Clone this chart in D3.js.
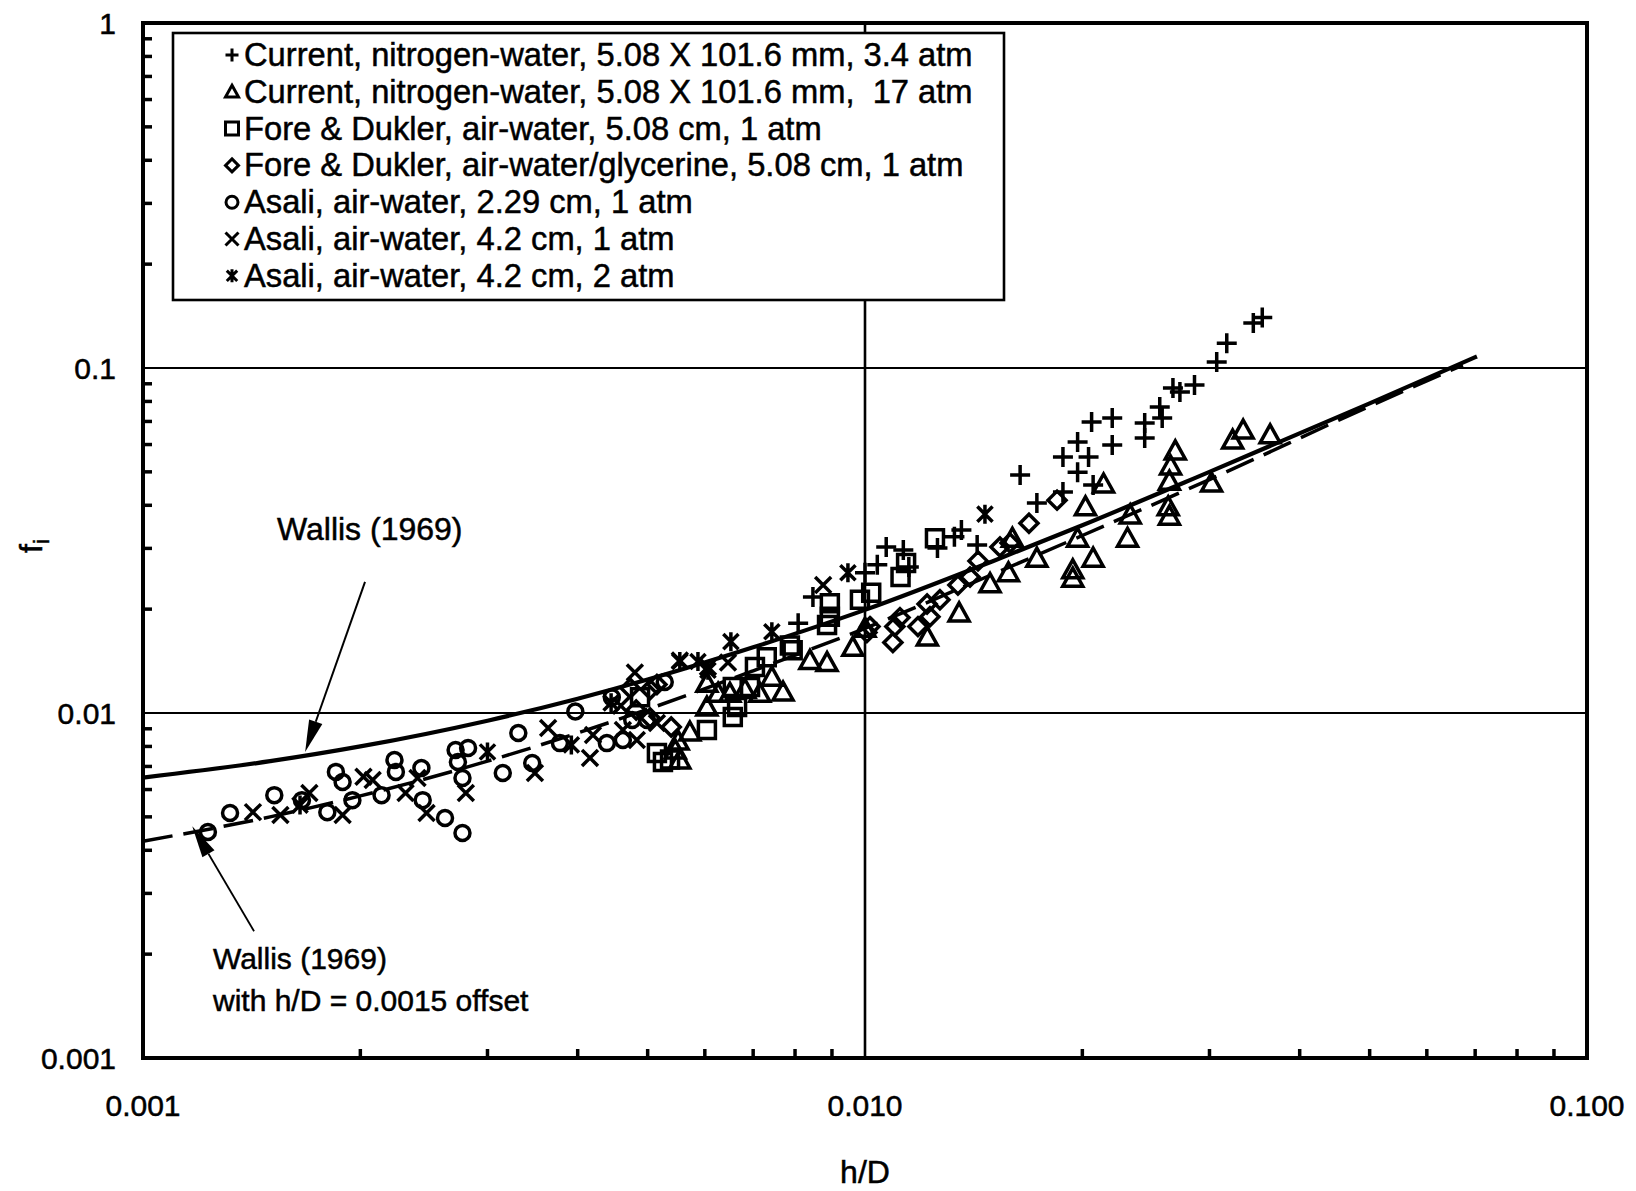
<!DOCTYPE html>
<html><head><meta charset="utf-8">
<script src="https://cdn.jsdelivr.net/npm/d3@7"></script>
<style>
body{margin:0;background:#fff}
svg{display:block}
text{font-family:"Liberation Sans",Arial,sans-serif;fill:#000;stroke:#000;stroke-width:0.5px}
</style>
</head><body>
<svg id="chart" width="1636" height="1191"></svg>
<script>
// ---------- data ----------
const plusHD = [0.0345,0.0355,0.0317,0.0307,0.0286,0.0273,0.0267,0.0256,0.0258,0.0244,0.0244,0.0220,0.0206,0.0220,0.0197,0.0188,0.0204,0.0197,0.0207,0.0164,0.0173,0.0188,0.0136,0.0133,0.0143,0.0126,0.0107,0.0113,0.0104,0.0115,0.0100,0.00847,0.00808];
const plusF  = [0.135,0.140,0.118,0.104,0.0893,0.0852,0.0875,0.0771,0.0716,0.0693,0.0627,0.0716,0.0697,0.0598,0.0610,0.0552,0.0552,0.0499,0.0458,0.0490,0.0406,0.0437,0.0339,0.0324,0.0307,0.0301,0.0303,0.0297,0.0269,0.0265,0.0255,0.0217,0.0182];

const triHD = [0.0364,0.0334,0.0323,0.0302,0.0269,0.0265,0.0264,0.0263,0.0264,0.0233,0.0231,0.0214,0.0202,0.0197,0.0207,0.0173,0.0194,0.0194,0.0149,0.0160,0.0158,0.0135,0.0122,0.0100,0.00962,0.00886,0.00839,0.00770,0.00743,0.00715,0.00682,0.00650,0.00626,0.00604,0.00604,0.00554,0.00551,0.00572,0.00546];
const triF  = [0.0640,0.0661,0.0618,0.0464,0.0575,0.0520,0.0470,0.0396,0.0372,0.0375,0.0321,0.0461,0.0396,0.0321,0.0281,0.0281,0.0260,0.0246,0.0237,0.0321,0.0255,0.0195,0.0166,0.0176,0.0155,0.0140,0.0142,0.0115,0.0127,0.0114,0.0117,0.0114,0.0114,0.0122,0.0104,0.00731,0.00829,0.00881,0.00781];

const sqHD = [0.0125,0.0114,0.0112,0.0102,0.00984,0.00894,0.00894,0.00886,0.00787,0.00794,0.00731,0.00704,0.00693,0.00656,0.00656,0.00604,0.00665,0.00515,0.00525,0.00537,0.00488];
const sqF  = [0.0321,0.0272,0.0248,0.0223,0.0213,0.0208,0.0190,0.0180,0.0157,0.0152,0.0145,0.0136,0.0119,0.0119,0.00974,0.00893,0.0104,0.00766,0.00721,0.00733,0.0111];

const diaHD = [0.01845,0.01687,0.01538,0.01588,0.01434,0.01398,0.01345,0.01270,0.01219,0.01230,0.01184,0.01118,0.01100,0.01093,0.01016,0.01006,0.00515,0.00504,0.00539,0.00504,0.00482,0.00473];
const diaF  = [0.0414,0.0355,0.0303,0.0311,0.0276,0.0248,0.0235,0.0213,0.0207,0.0190,0.0178,0.0189,0.0178,0.0160,0.0178,0.0171,0.0121,0.0117,0.00911,0.00967,0.0102,0.0118];

const circHD = [0.00123,0.00132,0.00152,0.00166,0.00180,0.00185,0.00189,0.00195,0.00214,0.00223,0.00224,0.00243,0.00244,0.00262,0.00277,0.00271,0.00282,0.00273,0.00277,0.00331,0.00315,0.00346,0.00397,0.00378,0.00446,0.00439,0.00462,0.00476,0.00528,0.00499];
const circF  = [0.00452,0.00513,0.00578,0.00559,0.00516,0.00675,0.00631,0.00559,0.00578,0.00731,0.00675,0.00693,0.00559,0.00496,0.00449,0.00781,0.00792,0.00721,0.00648,0.00875,0.00670,0.00716,0.0101,0.00818,0.0111,0.00818,0.00835,0.00954,0.0123,0.00954];

const xHD = [0.00142,0.00155,0.00170,0.00189,0.00202,0.00208,0.00231,0.00240,0.00247,0.00280,0.00349,0.00364,0.00416,0.00420,0.00483,0.00462,0.00480,0.00515,0.00554,0.00875,0.00646,0.00606,0.00459];
const xF  = [0.00516,0.00506,0.00586,0.00506,0.00653,0.00639,0.00586,0.00648,0.00513,0.00586,0.00670,0.00905,0.00741,0.00863,0.00835,0.00893,0.0131,0.00935,0.0142,0.0235,0.0140,0.0136,0.0105];

const astHD = [0.01466,0.00947,0.00652,0.00554,0.00587,0.00743,0.00445,0.00392,0.00300,0.00606,0.00165];
const astF  = [0.0377,0.0255,0.0161,0.0141,0.0141,0.0172,0.0107,0.00808,0.00771,0.0133,0.00541];

// Wallis (1969) curve and the offset curve
const wallisHD = [0.001,0.0015,0.002,0.003,0.004,0.005,0.007,0.01,0.015,0.02,0.03,0.05,0.0704];
const wallisF  = [0.0065,0.00725,0.008,0.0095,0.011,0.0125,0.0155,0.0199,0.0275,0.035,0.05,0.079,0.108];
const offsetHD = [0.001,0.0015,0.002,0.003,0.004,0.005,0.007,0.01,0.015,0.02,0.03,0.05,0.0673];
const offsetF  = [0.00425,0.005,0.00575,0.00725,0.00875,0.01025,0.01325,0.0176,0.0252,0.0327,0.0475,0.0775,0.102];

const legendLabels = [
  "Current, nitrogen-water, 5.08 X 101.6 mm, 3.4 atm",
  "Current, nitrogen-water, 5.08 X 101.6 mm,  17 atm",
  "Fore & Dukler, air-water, 5.08 cm, 1 atm",
  "Fore & Dukler, air-water/glycerine, 5.08 cm, 1 atm",
  "Asali, air-water, 2.29 cm, 1 atm",
  "Asali, air-water, 4.2 cm, 1 atm",
  "Asali, air-water, 4.2 cm, 2 atm"
];
const legendSymbols = ["plus","tri","sq","dia","circ","x","ast"];
const xTickValues = [0.001, 0.01, 0.1];
const xTickLabels = ["0.001","0.010","0.100"];
const yTickValues = [1, 0.1, 0.01, 0.001];
const yTickLabels = ["1","0.1","0.01","0.001"];

// ---------- layout ----------
const L = 143, R = 1587, T = 23, B = 1058;
const svg = d3.select("#chart");
const x = d3.scaleLog().domain([0.001, 0.1]).range([L, R]);
const y = d3.scaleLog().domain([0.001, 1]).range([B, T]);

function sym(type, s) {
  switch (type) {
    case "plus": return `M${-s},0H${s}M0,${-s}V${s}`;
    case "tri": return `M0,${-s}L${s*1.0},${s*0.8}L${-s*1.0},${s*0.8}Z`;
    case "sq": return `M${-s},${-s}H${s}V${s}H${-s}Z`;
    case "dia": return `M0,${-s}L${s},0L0,${s}L${-s},0Z`;
    case "circ": return `M${s},0A${s},${s} 0 1,1 ${-s},0A${s},${s} 0 1,1 ${s},0Z`;
    case "x": return `M${-s},${-s}L${s},${s}M${-s},${s}L${s},${-s}`;
    case "ast": { const a = s*0.8; return `M${-a},${-a}L${a},${a}M${-a},${a}L${a},${-a}M0,${-s}V${s}`; }
  }
}

// minor ticks (inward)
const yMinor = y.ticks().filter(v => Math.abs(Math.log10(v) - Math.round(Math.log10(v))) > 1e-6);
svg.append("g").selectAll("line").data(yMinor).join("line")
  .attr("x1", L).attr("x2", L + 9).attr("y1", d => y(d)).attr("y2", d => y(d))
  .attr("stroke", "#000").attr("stroke-width", 3.5);
const xMinor = x.ticks().filter(v => Math.abs(Math.log10(v) - Math.round(Math.log10(v))) > 1e-6);
svg.append("g").selectAll("line").data(xMinor).join("line")
  .attr("y1", B).attr("y2", B - 9).attr("x1", d => x(d)).attr("x2", d => x(d))
  .attr("stroke", "#000").attr("stroke-width", 3.5);

// grid lines
svg.append("g").selectAll("line").data([0.01, 0.1]).join("line")
  .attr("x1", L).attr("x2", R).attr("y1", d => y(d)).attr("y2", d => y(d))
  .attr("stroke", "#000").attr("stroke-width", 2.2);
svg.append("line").attr("x1", x(0.01)).attr("x2", x(0.01)).attr("y1", T).attr("y2", B)
  .attr("stroke", "#000").attr("stroke-width", 2.6);

// tick labels
svg.append("g").selectAll("text").data(xTickValues).join("text")
  .attr("x", d => x(d)).attr("y", 1116).attr("text-anchor", "middle")
  .attr("font-size", 30).text((d, i) => xTickLabels[i]);
svg.append("g").selectAll("text").data(yTickValues).join("text")
  .attr("x", 116).attr("y", d => y(d) + 11).attr("text-anchor", "end")
  .attr("font-size", 30).text((d, i) => yTickLabels[i]);

// axis titles
svg.append("text").attr("x", x(0.01)).attr("y", 1183).attr("text-anchor", "middle")
  .attr("font-size", 32).text("h/D");
const ft = svg.append("text").attr("transform", "translate(42,546) rotate(-90)")
  .attr("text-anchor", "middle").attr("font-size", 32);
ft.append("tspan").text("f");
ft.append("tspan").attr("font-size", 22).attr("dy", 7).text("i");

// curves
const lineGen = d3.line().x(d => x(d[0])).y(d => y(d[1])).curve(d3.curveMonotoneX);
svg.append("path").attr("d", lineGen(d3.zip(offsetHD, offsetF)))
  .attr("fill", "none").attr("stroke", "#000").attr("stroke-width", 3.5)
  .attr("stroke-dasharray", "30,11");
svg.append("path").attr("d", lineGen(d3.zip(wallisHD, wallisF)))
  .attr("fill", "none").attr("stroke", "#000").attr("stroke-width", 4.2);

// data points
const series = [
  {t: "plus", hd: plusHD, f: plusF, s: 10},
  {t: "tri",  hd: triHD,  f: triF,  s: 10},
  {t: "sq",   hd: sqHD,   f: sqF,   s: 8.5},
  {t: "dia",  hd: diaHD,  f: diaF,  s: 9},
  {t: "circ", hd: circHD, f: circF, s: 7.5},
  {t: "x",    hd: xHD,    f: xF,    s: 8},
  {t: "ast",  hd: astHD,  f: astF,  s: 9.5}
];
series.forEach(S => {
  svg.append("g").selectAll("path").data(d3.zip(S.hd, S.f)).join("path")
    .attr("transform", d => `translate(${x(d[0])},${y(d[1])})`)
    .attr("d", sym(S.t, S.s))
    .attr("fill", "none").attr("stroke", "#000").attr("stroke-width", 3.5)
    .attr("stroke-linejoin", "miter");
});

// annotations
function arrow(x1, y1, x2, y2, w) {
  const dx = x2 - x1, dy = y2 - y1, len = Math.hypot(dx, dy);
  const ux = dx / len, uy = dy / len, hl = 32, hw = 7;
  const bx = x2 - ux * hl, by = y2 - uy * hl;
  svg.append("line").attr("x1", x1).attr("y1", y1).attr("x2", bx).attr("y2", by)
    .attr("stroke", "#000").attr("stroke-width", w);
  svg.append("path").attr("d",
    `M${x2},${y2}L${bx - uy * hw},${by + ux * hw}L${bx + uy * hw},${by - ux * hw}Z`)
    .attr("fill", "#000");
}
arrow(x(0.00203), y(0.0240), x(0.001677), y(0.00771), 2);
arrow(x(0.001425), y(0.00233), x(0.00117), y(0.0047), 1.8);
svg.append("text").attr("x", x(0.001533)).attr("y", y(0.0317)).attr("font-size", 32).text("Wallis (1969)");
svg.append("text").attr("x", x(0.00125)).attr("y", y(0.00181)).attr("font-size", 30).text("Wallis (1969)");
svg.append("text").attr("x", x(0.00125)).attr("y", y(0.001368)).attr("font-size", 30).text("with h/D = 0.0015 offset");

// frame
svg.append("rect").attr("x", L).attr("y", T).attr("width", R - L).attr("height", B - T)
  .attr("fill", "none").attr("stroke", "#000").attr("stroke-width", 4);

// legend
const lg = svg.append("g");
lg.append("rect").attr("x", 173).attr("y", 33).attr("width", 831).attr("height", 267)
  .attr("fill", "#fff").attr("stroke", "#000").attr("stroke-width", 2.6);
legendLabels.forEach((lab, i) => {
  const cy = 55 + i * 36.8;
  lg.append("path").attr("transform", `translate(232,${cy})`)
    .attr("d", sym(legendSymbols[i], legendSymbols[i] === "circ" ? 6 : 6.5))
    .attr("fill", "none").attr("stroke", "#000").attr("stroke-width", 3);
  lg.append("text").attr("x", 244).attr("y", cy + 11).attr("font-size", 32.7)
    .style("white-space", "pre").text(lab);
});
</script>
</body></html>
